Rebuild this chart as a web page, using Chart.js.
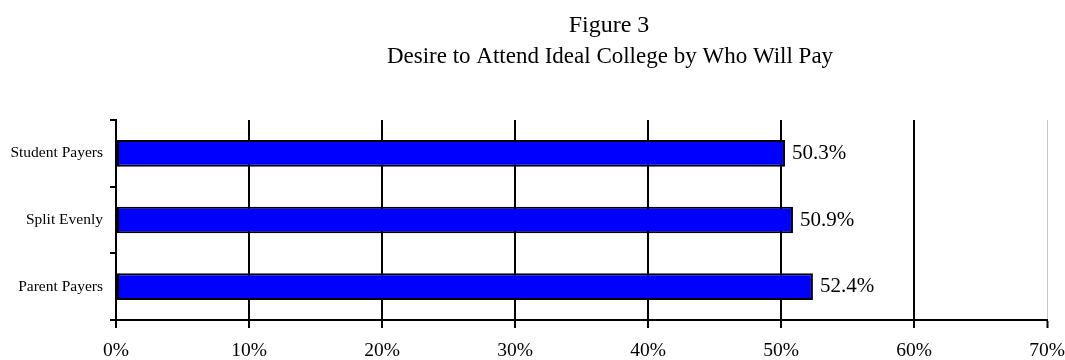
<!DOCTYPE html>
<html><head><meta charset="utf-8">
<script src="https://cdn.jsdelivr.net/npm/chart.js@4/dist/chart.umd.min.js"></script>
<style>html,body{margin:0;padding:0;background:#fff}#wrap{width:1065px;height:360px}</style>
</head><body><div id="wrap"><canvas id="c" width="1065" height="360"></canvas></div>
<script>
const categories = ["Student Payers", "Split Evenly", "Parent Payers"];
const values = [50.3, 50.9, 52.4];
const valueLabels = ["50.3%", "50.9%", "52.4%"];
const xTicks = [0, 10, 20, 30, 40, 50, 60, 70];
const titleText = "Figure 3";
const subtitleText = "Desire to Attend Ideal College by Who Will Pay";

const serif = "'Liberation Serif', 'Times New Roman', serif";

const titlePlugin = {
  id: 'titles',
  afterDraw(chart) {
    const ctx = chart.ctx;
    ctx.save();
    ctx.fillStyle = '#000';
    ctx.textAlign = 'center';
    ctx.textBaseline = 'alphabetic';
    ctx.font = "24px " + serif;
    ctx.fillText(titleText, 609, 32);
    ctx.font = "23px " + serif;
    ctx.fillText(subtitleText, 610, 63);
    ctx.restore();
  }
};
const labelPlugin = {
  id: 'vlabels',
  afterDatasetsDraw(chart) {
    const ctx = chart.ctx;
    const meta = chart.getDatasetMeta(0);
    ctx.save();
    ctx.fillStyle = '#000';
    ctx.font = "21px " + serif;
    ctx.textAlign = 'left';
    ctx.textBaseline = 'middle';
    meta.data.forEach((bar, i) => {
      ctx.fillText(valueLabels[i], bar.x + 7, bar.y);
    });
    ctx.restore();
  }
};

new Chart(document.getElementById('c'), {
  type: 'bar',
  data: {
    labels: categories,
    datasets: [{
      data: values,
      backgroundColor: '#0000FF',
      borderColor: '#000',
      borderWidth: 2,
      borderSkipped: false,
      barPercentage: 0.4,
      categoryPercentage: 1.0
    }]
  },
  options: {
    indexAxis: 'y',
    responsive: false,
    animation: false,
    devicePixelRatio: 1,
    layout: { padding: { top: 120, right: 0, left: 0, bottom: 0 } },
    plugins: { legend: { display: false }, tooltip: { enabled: false } },
    scales: {
      x: {
        min: 0, max: 70,
        afterBuildTicks(scale) { scale.ticks = xTicks.map(v => ({ value: v })); },
        afterFit(scale) { scale.height = 40; scale.paddingRight = 18; },
        ticks: {
          callback: v => v + '%',
          color: '#000',
          font: { family: serif, size: 19.5 },
          padding: 11,
          maxRotation: 0,
          autoSkip: false
        },
        grid: {
          color: ctx => (ctx.tick && ctx.tick.value === 70) ? '#c8c8c8' : '#000',
          lineWidth: ctx => (ctx.tick && ctx.tick.value === 70) ? 1 : 2,
          tickColor: '#000',
          tickWidth: 2,
          tickLength: 8,
          drawTicks: true
        },
        border: { color: '#000', width: 2 }
      },
      y: {
        afterFit(scale) { scale.width = 116; },
        ticks: {
          color: '#000',
          font: { family: serif, size: 15.5 },
          padding: 7
        },
        grid: {
          drawOnChartArea: false,
          offset: true,
          color: '#000',
          lineWidth: 2,
          tickLength: 6
        },
        border: { color: '#000', width: 2 }
      }
    }
  },
  plugins: [titlePlugin, labelPlugin]
});
</script>
</body></html>
